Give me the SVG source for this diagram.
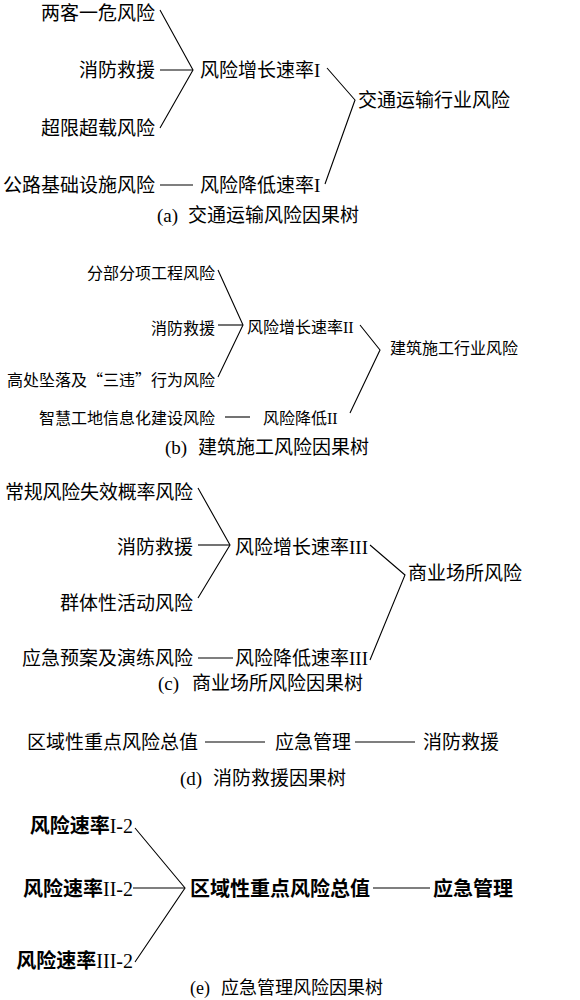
<svg xmlns="http://www.w3.org/2000/svg" width="580" height="1000" viewBox="0 0 580 1000">
<style>
text { font-family: "Liberation Serif", "Noto Sans CJK SC", serif; fill: #000; }
.f19 { font-size: 19px; }
.f18 { font-size: 18px; }
.f16 { font-size: 16px; }
.f20 { font-size: 20px; }
.end { text-anchor: end; }
.cjk { font-family: "Noto Sans CJK SC", sans-serif; }
.sans { font-family: "Noto Sans CJK SC", sans-serif; }
.bold { font-weight: bold; }
.lat { font-family: "Liberation Serif", serif; font-weight: normal; }
.conn path { fill: none; stroke: #000; stroke-width: 1.1; }
</style>
<rect width="580" height="1000" fill="#fff"/>

<g id="connectors" class="conn">
  <!-- (a) -->
  <path d="M160,10 L193,70 L160,128"/>
  <path d="M160,70 H193"/>
  <path d="M327,68 L355,100 L325,184"/>
  <path d="M160,185 H193"/>
  <!-- (b) -->
  <path d="M218,270 L243,325 L218,377"/>
  <path d="M218,325 H243"/>
  <path d="M360,325 L380,350 L350,413"/>
  <path d="M225,417 H250"/>
  <!-- (c) -->
  <path d="M198,488 L230,545 L198,598"/>
  <path d="M198,545 H230"/>
  <path d="M370,545 L405,575 L370,660"/>
  <path d="M198,658 H233"/>
  <!-- (d) -->
  <path d="M205,742 H265"/>
  <path d="M355,742 H415"/>
  <!-- (e) -->
  <path d="M135,828 L185,888 L135,962"/>
  <path d="M133,888 H185"/>
  <path d="M373,888 H430"/>
</g>

<!-- (a) 交通运输 -->
<g id="a-liangke"><text class="f19 end" x="155" y="20">两客一危风险</text></g>
<g id="a-xiaofang"><text class="f19 end" x="155" y="77">消防救援</text></g>
<g id="a-chaoxian"><text class="f19 end" x="155" y="135">超限超载风险</text></g>
<g id="a-gonglu"><text class="f19 end" x="155" y="192">公路基础设施风险</text></g>
<g id="a-zengzhang"><text class="f19" x="200" y="77">风险增长速率<tspan class="lat">I</tspan></text></g>
<g id="a-jiangdi"><text class="f19" x="200" y="192">风险降低速率<tspan class="lat">I</tspan></text></g>
<g id="a-hangye"><text class="f19" x="358" y="107">交通运输行业风险</text></g>
<g id="a-caption"><text class="f19" x="157" y="222">(a)</text><text class="f19" x="188" y="222">交通运输风险因果树</text></g>

<!-- (b) 建筑施工 -->
<g id="b-fenbu"><text class="f16 end" x="215" y="279">分部分项工程风险</text></g>
<g id="b-xiaofang"><text class="f16 end" x="215" y="334">消防救援</text></g>
<g id="b-gaochu"><text class="f16 end" x="215" y="386">高处坠落及<tspan class="cjk">“</tspan>三违<tspan class="cjk">”</tspan>行为风险</text></g>
<g id="b-zhihui"><text class="f16 end" x="215" y="424">智慧工地信息化建设风险</text></g>
<g id="b-zengzhang"><text class="f16" x="247" y="333">风险增长速率<tspan class="lat">II</tspan></text></g>
<g id="b-hangye"><text class="f16" x="390" y="354">建筑施工行业风险</text></g>
<g id="b-jiangdi"><text class="f16" x="263" y="424">风险降低<tspan class="lat">II</tspan></text></g>
<g id="b-caption"><text class="f19" x="165" y="454">(b)</text><text class="f19" x="198" y="454">建筑施工风险因果树</text></g>

<!-- (c) 商业场所 -->
<g id="c-changgui"><text class="f19 end" x="193" y="499" textLength="188" lengthAdjust="spacing">常规风险失效概率风险</text></g>
<g id="c-xiaofang"><text class="f19 end" x="193" y="554">消防救援</text></g>
<g id="c-qunti"><text class="f19 end" x="193" y="610">群体性活动风险</text></g>
<g id="c-yingji"><text class="f19 end" x="193" y="665">应急预案及演练风险</text></g>
<g id="c-zengzhang"><text class="f19" x="235" y="554">风险增长速率<tspan class="lat">III</tspan></text></g>
<g id="c-jiangdi"><text class="f19" x="235" y="665">风险降低速率<tspan class="lat">III</tspan></text></g>
<g id="c-shangye"><text class="f19" x="408" y="580">商业场所风险</text></g>
<g id="c-caption"><text class="f19" x="158" y="690">(c)</text><text class="f19" x="192" y="690">商业场所风险因果树</text></g>

<!-- (d) 消防救援 -->
<g id="d-quyu"><text class="f19 sans" x="27" y="749">区域性重点风险总值</text></g>
<g id="d-yingji"><text class="f19 sans" x="275" y="749">应急管理</text></g>
<g id="d-xiaofang"><text class="f19 sans" x="423" y="749">消防救援</text></g>
<g id="d-caption"><text class="f19" x="180" y="785">(d)</text><text class="f19" x="213" y="785">消防救援因果树</text></g>

<!-- (e) 应急管理 -->
<g id="e-sulv1"><text class="f20 end" x="133" y="833"><tspan class="sans bold">风险速率</tspan><tspan class="lat">I-2</tspan></text></g>
<g id="e-sulv2"><text class="f20 end" x="133" y="896"><tspan class="sans bold">风险速率</tspan><tspan class="lat">II-2</tspan></text></g>
<g id="e-sulv3"><text class="f20 end" x="133" y="968"><tspan class="sans bold">风险速率</tspan><tspan class="lat">III-2</tspan></text></g>
<g id="e-quyu"><text class="f20 sans bold" x="190" y="896">区域性重点风险总值</text></g>
<g id="e-yingji"><text class="f20 sans bold" x="433" y="896">应急管理</text></g>
<g id="e-caption"><text class="f18" x="190" y="994">(e)</text><text class="f18" x="221" y="994">应急管理风险因果树</text></g>
</svg>
